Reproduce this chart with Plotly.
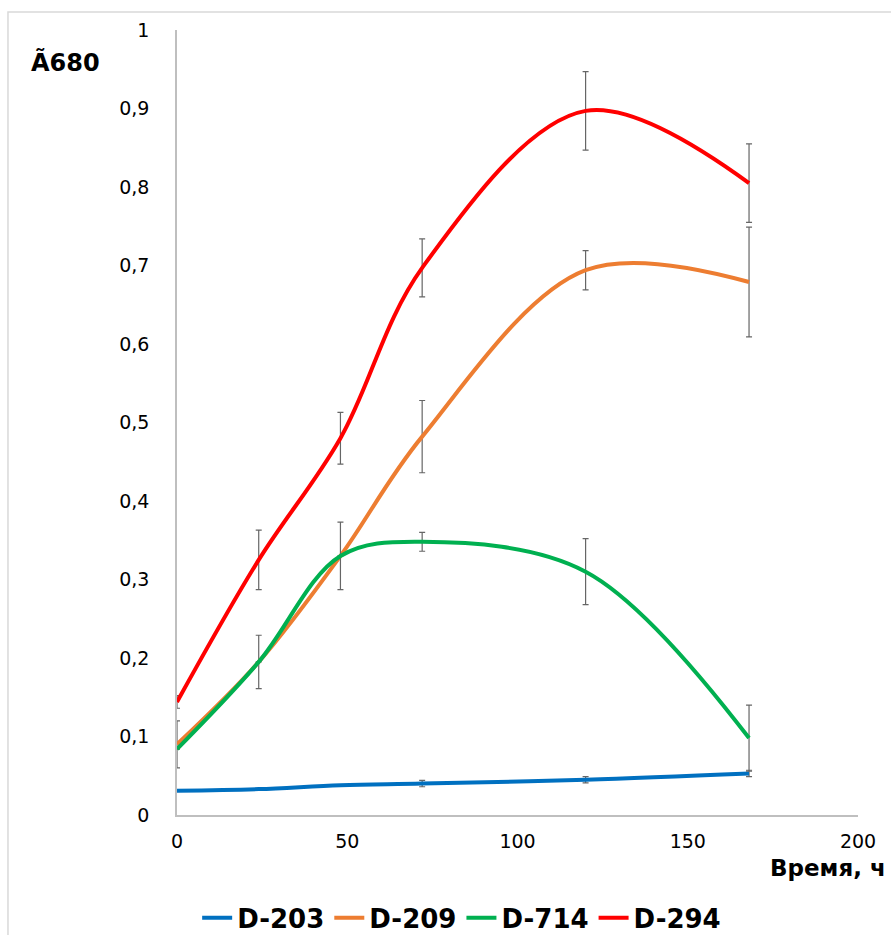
import plotly.graph_objects as go

# Sampling times, h
hours = [0, 24, 48, 72, 120, 168]

# Optical density A680 per strain, with standard deviations
series_names = ["D-203", "D-209", "D-714", "D-294"]
series_colors = ["#0070C0", "#ED7D31", "#00B050", "#FF0000"]

d203 = [0.031, 0.033, 0.038, 0.040, 0.045, 0.053]
d203_err = [0.0, 0.0, 0.0, 0.004, 0.004, 0.004]

d209 = [0.090, 0.195, 0.330, 0.482, 0.694, 0.679]
d209_err = [0.030, 0.034, 0.0, 0.046, 0.025, 0.070]

d714 = [0.084, 0.195, 0.330, 0.348, 0.310, 0.098]
d714_err = [0.0, 0.0, 0.043, 0.012, 0.042, 0.042]

d294 = [0.144, 0.325, 0.480, 0.697, 0.897, 0.805]
d294_err = [0.008, 0.038, 0.033, 0.037, 0.050, 0.050]

values = [d203, d209, d714, d294]
errors = [d203_err, d209_err, d714_err, d294_err]

x_ticks = [0, 50, 100, 150, 200]
y_ticks = [0, 0.1, 0.2, 0.3, 0.4, 0.5, 0.6, 0.7, 0.8, 0.9, 1]
y_tick_text = ["0", "0,1", "0,2", "0,3", "0,4", "0,5", "0,6", "0,7", "0,8", "0,9", "1"]

FONT = "DejaVu Sans"

fig = go.Figure()
for name, color, ys, es in zip(series_names, series_colors, values, errors):
    fig.add_trace(go.Scatter(
        x=hours, y=ys, name=name, mode="lines",
        line=dict(color=color, width=4, shape="spline", smoothing=1),
        error_y=dict(type="data", array=es, visible=True,
                     color="#666666", thickness=1.2, width=3),
    ))

fig.update_layout(
    width=891, height=935,
    margin=dict(l=177, r=33, t=30, b=120, autoexpand=False),
    paper_bgcolor="white", plot_bgcolor="white",
    font=dict(family=FONT, color="#000000"),
    showlegend=True,
    legend=dict(orientation="h", x=0.418, xanchor="center",
                y=-0.131, yanchor="middle",
                font=dict(family=FONT, size=26, color="#000000", weight="bold"),
                itemwidth=30, tracegroupgap=0, bgcolor="rgba(0,0,0,0)"),
    xaxis=dict(range=[0, 200], tickvals=x_ticks, showgrid=False, zeroline=False,
               showline=True, linecolor="#BFBFBF", linewidth=1.5, ticks="",
               tickfont=dict(family=FONT, size=19, color="#000000"),
               ticklabelstandoff=8),
    yaxis=dict(range=[0, 1], tickvals=y_ticks, ticktext=y_tick_text,
               showgrid=False, zeroline=False,
               showline=True, linecolor="#BFBFBF", linewidth=1.5, ticks="",
               tickfont=dict(family=FONT, size=19, color="#000000"),
               ticklabelstandoff=22),
    annotations=[
        dict(text="<b>Ã680</b>", xref="paper", yref="paper",
             x=-0.163, y=0.959, xanchor="center", yanchor="middle",
             showarrow=False, font=dict(family=FONT, size=24, color="#000000")),
        dict(text="<b>Время, ч</b>", xref="paper", yref="paper",
             x=1.044, y=-0.0675, xanchor="right", yanchor="middle",
             showarrow=False, font=dict(family=FONT, size=23, color="#000000")),
    ],
    shapes=[
        dict(type="rect", xref="paper", yref="paper",
             x0=-0.2482, x1=1.2, y0=-0.2, y1=1.0229,
             line=dict(color="#D9D9D9", width=1.5), layer="below"),
    ],
)

fig.write_html("out.html")
